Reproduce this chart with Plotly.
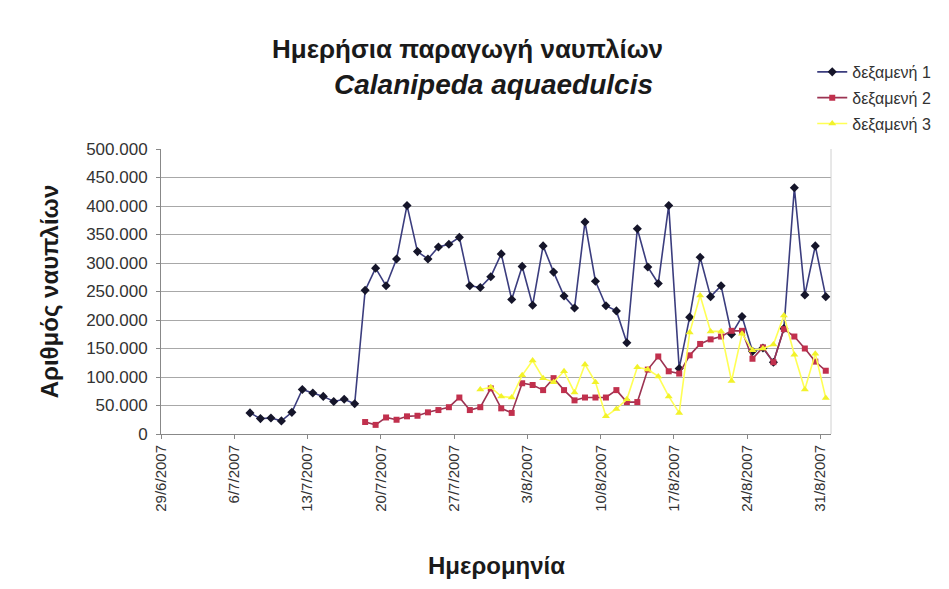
import pandas as pd
import plotly.graph_objects as go

# ---- data ----
tank1_start = "2007-07-07"
tank1 = [37, 27, 28, 23, 38, 78, 72, 66, 57, 61, 53,
         252, 291, 260, 307, 401, 320, 307, 328, 333, 345,
         260, 257, 276, 316, 236, 294, 226, 330, 284, 242,
         221, 372, 268, 225, 216, 160, 360, 293, 264, 401,
         115, 205, 310, 241, 260, 175, 206, 145, 151, 126,
         185, 432, 244, 330, 241]
tank2_start = "2007-07-18"
tank2 = [21, 16, 29, 25, 31, 32, 38, 42, 47, 64,
         42, 47, 80, 45, 37, 89, 86, 77, 98, 77,
         59, 64, 64, 64, 77, 56, 56, 113, 136, 110,
         106, 138, 158, 166, 171, 181, 181, 132, 152, 126,
         184, 171, 150, 127, 111]
tank3_start = "2007-07-29"
tank3 = [78, 82, 66, 64, 103, 129, 98, 91, 110, 73,
         122, 91, 31, 44, 61, 117, 113, 101, 66, 37,
         178, 243, 180, 180, 93, 176, 147, 150, 157, 208,
         139, 78, 141, 63]
series_names = ["δεξαμενή 1", "δεξαμενή 2", "δεξαμενή 3"]
tick_dates = pd.date_range("2007-06-29", "2007-08-31", freq="7D")
title_1 = "Ημερήσια παραγωγή ναυπλίων"
title_2 = "Calanipeda aquaedulcis"
y_title = "Αριθμός ναυπλίων"
x_title = "Ημερομηνία"

FONT = "Arial, Liberation Sans, sans-serif"
half_day = pd.Timedelta(hours=12)


def dates(start, vals):
    return pd.date_range(start, periods=len(vals), freq="D") + half_day


styles = [
    dict(line=dict(color="#3b3d7e", width=1.6),
         marker=dict(symbol="diamond", size=7, color="#15152a")),
    dict(line=dict(color="#9b3352", width=1.6),
         marker=dict(symbol="square", size=6, color="#c1304d")),
    dict(line=dict(color="#ffff55", width=1.6),
         marker=dict(symbol="triangle-up", size=7, color="#f2f22a")),
]

fig = go.Figure()
for i, (start, vals) in enumerate([(tank1_start, tank1), (tank2_start, tank2), (tank3_start, tank3)]):
    fig.add_trace(go.Scatter(
        x=dates(start, vals), y=[v * 1000 for v in vals],
        mode="lines+markers", name=series_names[i],
        legendgroup=f"g{i}", **styles[i]))

# page body has an 8px margin, so the figure is sized to 941x581
fig.update_layout(
    width=941, height=581,
    margin=dict(l=153, r=118, t=141, b=155),
    paper_bgcolor="white", plot_bgcolor="white",
    separators=",.",
    font=dict(family=FONT, color="#222222", size=13),
    showlegend=True,
    legend=dict(x=0.972, y=1.33, xanchor="left", yanchor="top",
                font=dict(size=16, color="#333333"),
                bgcolor="rgba(0,0,0,0)", tracegroupgap=2,
                itemwidth=30),
    xaxis=dict(
        range=[pd.Timestamp("2007-06-29"), pd.Timestamp("2007-09-01")],
        tickvals=tick_dates, tickformat="%-d/%-m/%Y", tickangle=-90,
        tickfont=dict(size=15, color="#333333"),
        showgrid=False, showline=True, linecolor="#888888", linewidth=1,
        ticks="outside", ticklen=4, tickcolor="#888888",
        mirror=False, zeroline=False),
    yaxis=dict(
        range=[0, 500000], dtick=50000, tickformat=",d",
        tickfont=dict(size=17, color="#333333"),
        showgrid=True, gridcolor="#a8a8a8", gridwidth=1,
        showline=True, linecolor="#888888", linewidth=1,
        ticks="outside", ticklen=4, tickcolor="#888888",
        ticklabelstandoff=5, zeroline=False),
)

fig.add_shape(type="line", xref="paper", yref="paper", x0=1, x1=1, y0=0, y1=1,
              line=dict(color="#d0d0d0", width=1))

fig.add_annotation(text=f"<b>{title_1}</b>", xref="paper", yref="paper",
                   x=0.457, y=1.35, yanchor="middle", showarrow=False,
                   font=dict(size=26, color="#1a1a1a", family=FONT))
fig.add_annotation(text=f"<b><i>{title_2}</i></b>", xref="paper", yref="paper",
                   x=0.497, y=1.228, yanchor="middle", showarrow=False,
                   font=dict(size=28, color="#1a1a1a", family=FONT))
fig.add_annotation(text=f"<b>{y_title}</b>", xref="paper", yref="paper",
                   x=-0.166, y=0.5, textangle=-90, showarrow=False,
                   xanchor="center", yanchor="middle",
                   font=dict(size=24, color="#1a1a1a", family=FONT))
fig.add_annotation(text=f"<b>{x_title}</b>", xref="paper", yref="paper",
                   x=0.5, y=-0.46, showarrow=False, xanchor="center", yanchor="middle",
                   font=dict(size=24, color="#1a1a1a", family=FONT))

fig.write_html("out.html")
